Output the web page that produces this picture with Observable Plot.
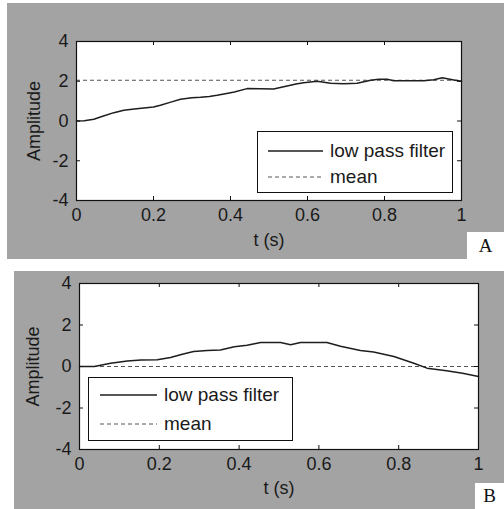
<!DOCTYPE html>
<html>
<head>
<meta charset="utf-8">
<script src="https://cdn.jsdelivr.net/npm/d3@7"></script>
<script src="https://cdn.jsdelivr.net/npm/@observablehq/plot@0.6"></script>
<style>
  html, body { margin: 0; padding: 0; background: #ffffff; }
  #root { position: relative; width: 504px; height: 509px; overflow: hidden; font-family: "Liberation Sans", Arial, sans-serif; }
  .grey { position: absolute; background: #a3a3a3; }
  .tag { position: absolute; background: #ffffff; font-family: "Liberation Serif", "Times New Roman", serif; font-size: 19px; color: #111; display: flex; align-items: center; justify-content: center; }
  .panel { position: absolute; left: 0; }
  .legend { position: absolute; background: #ffffff; border: 1.3px solid #111; box-sizing: border-box; font-size: 19px; color: #1a1a1a; }
  .row { position: absolute; display: flex; align-items: center; }
  .row span { margin-left: 7px; }
</style>
</head>
<body>
<div id="root">
  <div class="grey" style="left:7px; top:3px; width:497px; height:256px;"></div>
  <div class="tag" style="left:467px; top:232px; width:37px; height:27px;">A</div>
  <div class="grey" style="left:14px; top:271px; width:490px; height:238px;"></div>
  <div class="tag" style="left:475px; top:483px; width:29px; height:26px;">B</div>
  <div id="pa" class="panel" style="top:0px;"></div>
  <div id="pb" class="panel" style="top:259px;"></div>
</div>
<script>
// ---- data ----
const xTicks = [0, 0.2, 0.4, 0.6, 0.8, 1];
const yTicks = [-4, -2, 0, 2, 4];
const xLabel = "t (s)";
const yLabel = "Amplitude";
const seriesNames = ["low pass filter", "mean"];

const tA = [0, 0.02, 0.045, 0.07, 0.097, 0.123, 0.15, 0.175, 0.2, 0.218, 0.245, 0.27, 0.3, 0.322, 0.345, 0.365, 0.39, 0.41, 0.443, 0.478, 0.512, 0.547, 0.57, 0.59, 0.625, 0.66, 0.694, 0.729, 0.764, 0.785, 0.807, 0.824, 0.868, 0.902, 0.928, 0.95, 0.963, 0.98, 1.0];
const yA = [0, 0.01, 0.09, 0.25, 0.42, 0.54, 0.6, 0.65, 0.7, 0.79, 0.95, 1.09, 1.17, 1.19, 1.23, 1.29, 1.38, 1.46, 1.63, 1.62, 1.61, 1.76, 1.86, 1.93, 2.0, 1.9, 1.87, 1.9, 2.05, 2.1, 2.1, 2.03, 2.02, 2.03, 2.08, 2.18, 2.13, 2.06, 2.0];
const meanA = 2.05;

const tB = [0, 0.037, 0.078, 0.12, 0.154, 0.195, 0.228, 0.26, 0.286, 0.32, 0.353, 0.388, 0.42, 0.454, 0.504, 0.529, 0.554, 0.62, 0.654, 0.704, 0.737, 0.788, 0.838, 0.871, 0.92, 0.96, 1.0];
const yB = [0, 0, 0.16, 0.27, 0.31, 0.33, 0.43, 0.6, 0.72, 0.77, 0.8, 0.95, 1.02, 1.16, 1.16, 1.05, 1.16, 1.16, 0.98, 0.77, 0.7, 0.48, 0.16, -0.08, -0.21, -0.33, -0.48];
const meanB = 0;

function panel(t, y, mean, cfg) {
  const data = t.map((d, i) => ({t: d, v: y[i]}));
  const pw = cfg.width - cfg.ml - cfg.mr;
  const ph = cfg.height - cfg.mt - cfg.mb;
  const tk = 4;
  const fmt = d => String(d);
  return Plot.plot({
    width: cfg.width,
    height: cfg.height,
    marginLeft: cfg.ml, marginRight: cfg.mr, marginTop: cfg.mt, marginBottom: cfg.mb,
    style: {background: "transparent", fontFamily: "'Liberation Sans', Arial, sans-serif", fontSize: "18px", color: "#1a1a1a", overflow: "visible"},
    x: {domain: [0, 1]},
    y: {domain: [-4, 4]},
    marks: [
      Plot.frame({fill: "white", stroke: null}),
      Plot.ruleY([mean], {stroke: "#555", strokeWidth: 1, strokeDasharray: "4,3"}),
      Plot.line(data, {x: "t", y: "v", stroke: "#1e1e1e", strokeWidth: 1.5}),
      Plot.tickX(xTicks, {x: d => d, insetTop: ph - tk, stroke: "#111"}),
      Plot.tickX(xTicks, {x: d => d, insetBottom: ph - tk, stroke: "#111"}),
      Plot.tickY(yTicks, {y: d => d, insetRight: pw - tk, stroke: "#111"}),
      Plot.tickY(yTicks, {y: d => d, insetLeft: pw - tk, stroke: "#111"}),
      Plot.axisX(xTicks, {anchor: "bottom", tickSize: 0, tickPadding: 8, tickFormat: fmt, label: xLabel, labelAnchor: "center", labelArrow: "none", labelOffset: cfg.xlo, fontSize: 18}),
      Plot.axisY(yTicks, {anchor: "left", tickSize: 0, tickPadding: 8, tickFormat: fmt, label: yLabel, labelAnchor: "center", labelArrow: "none", labelOffset: cfg.ylo, fontSize: 18}),
      Plot.frame({stroke: "#111", strokeWidth: 1.2})
    ]
  });
}

document.getElementById("pa").appendChild(panel(tA, yA, meanA, {width: 504, height: 259, ml: 76, mr: 43, mt: 41, mb: 59, xlo: 45, ylo: 49}));
document.getElementById("pb").appendChild(panel(tB, yB, meanB, {width: 504, height: 250, ml: 79, mr: 26, mt: 24, mb: 60, xlo: 44, ylo: 53}));

function legend(left, top, w, h, sx, sw, r1, r2) {
  const el = document.createElement("div");
  el.className = "legend";
  el.style.cssText = `left:${left}px; top:${top}px; width:${w}px; height:${h}px;`;
  const rows = [[seriesNames[0], r1, null, "#1e1e1e", 1.5], [seriesNames[1], r2, "4,3", "#555", 1]];
  for (const [name, ry, dash, col, sw2] of rows) {
    const row = document.createElement("div");
    row.className = "row";
    row.style.left = sx + "px";
    row.style.top = (ry - 12) + "px";
    row.style.height = "24px";
    row.innerHTML = `<svg width="${sw}" height="6"><line x1="0" x2="${sw}" y1="3" y2="3" stroke="${col}" stroke-width="${sw2}" ${dash ? `stroke-dasharray="${dash}"` : ""}/></svg><span>${name}</span>`;
    el.appendChild(row);
  }
  document.getElementById("root").appendChild(el);
}
legend(257, 131, 196, 62, 10, 55, 19, 45);
legend(88, 377, 205, 64, 11, 57, 17, 46);
</script>
</body>
</html>
